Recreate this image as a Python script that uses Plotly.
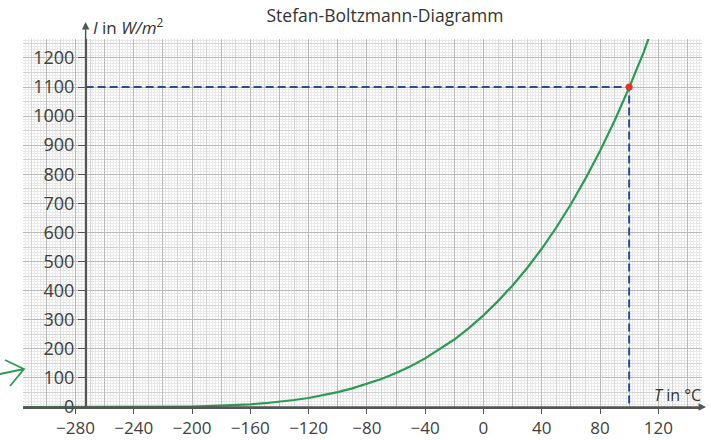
import plotly.graph_objects as go

# ---- data ----
T_C = [-316, -280, -273, -260, -250, -240, -230, -220, -210, -200, -190, -180, -170,
       -160, -150, -140, -130, -120, -110, -100, -90, -80, -70, -60, -50, -40,
       -30, -20, -10, 0, 10, 20, 30, 40, 50, 60, 70, 80, 90, 100, 110, 115]
I_W = [0, 0, 0, 0, 0, 0, 0.2, 0.5, 0.9, 1.6, 2.7, 4.2, 6.4,
       9.3, 13, 18, 24, 31, 40, 51, 64, 79, 96, 117, 140, 167,
       198, 232, 271, 315, 364, 418, 478, 544, 617, 697, 785, 880, 984, 1098, 1220, 1290]

mark_T = [100]
mark_I = [1100]
axis_T = -273

x_ticks = [-280, -240, -200, -160, -120, -80, -40, 0, 40, 80, 120]
y_ticks = [0, 100, 200, 300, 400, 500, 600, 700, 800, 900, 1000, 1100, 1200]

X_RANGE = [-316, 150]
Y_RANGE = [0, 1265]

GREEN = "#2b9a52"
NAVY = "#2e4a8c"
AXC = "#555555"
FONT = "Open Sans"

fig = go.Figure()

# helper traces for overlay grid axes
fig.add_trace(go.Scatter(x=[None], y=[None], xaxis="x2", yaxis="y2", showlegend=False, hoverinfo="skip"))
fig.add_trace(go.Scatter(x=[None], y=[None], xaxis="x3", yaxis="y3", showlegend=False, hoverinfo="skip"))

# dashed guide lines
fig.add_trace(go.Scatter(
    x=[axis_T, mark_T[0], mark_T[0]], y=[mark_I[0], mark_I[0], 0],
    mode="lines", line=dict(color=NAVY, width=2, dash="8px,4px"),
    showlegend=False, hoverinfo="skip"))

# curve
fig.add_trace(go.Scatter(
    x=T_C, y=I_W, mode="lines", line=dict(color=GREEN, width=2.2),
    showlegend=False))

# red point
fig.add_trace(go.Scatter(
    x=mark_T, y=mark_I, mode="markers",
    marker=dict(color="#e53222", size=7), showlegend=False))

common_grid_axis = dict(showticklabels=False, ticks="", zeroline=False, showline=False,
                        automargin=False)

fig.update_layout(
    width=711, height=440,
    margin=dict(l=23, r=9, t=39, b=33),
    paper_bgcolor="white", plot_bgcolor="white",
    font=dict(family=FONT, color="#404040"),
    title=dict(text="Stefan-Boltzmann-Diagramm", x=385/711, xanchor="center",
               y=1 - 16/440, yanchor="middle",
               font=dict(size=17.5, family=FONT, color="#333333")),
    xaxis=dict(range=X_RANGE, tickmode="array", tickvals=x_ticks,
               showgrid=False, zeroline=False, automargin=False,
               showline=True, linecolor=AXC, linewidth=1.5,
               ticks="outside", ticklen=5, tickcolor=AXC, tickwidth=1,
               ticklabelstandoff=0,
               tickfont=dict(size=17, color="#404040"),
               minor=dict(dtick=2, tick0=0, showgrid=True, gridcolor="#e9e9e9", gridwidth=1, ticks=""),
               anchor="y"),
    xaxis2=dict(range=X_RANGE, overlaying="x", dtick=10, tick0=0, showgrid=True,
                gridcolor="#d4d4d4", gridwidth=1, anchor="y2", **common_grid_axis),
    xaxis3=dict(range=X_RANGE, overlaying="x", dtick=20, tick0=0, showgrid=True,
                gridcolor="#b9b9b9", gridwidth=1, anchor="y3", **common_grid_axis),
    yaxis=dict(range=Y_RANGE, tickmode="array", tickvals=y_ticks,
               anchor="free", position=(axis_T - X_RANGE[0]) / (X_RANGE[1] - X_RANGE[0]),
               showgrid=False, zeroline=False, automargin=False,
               showline=True, linecolor=AXC, linewidth=1.5,
               ticks="outside", ticklen=7, tickcolor=AXC, tickwidth=1,
               tickfont=dict(size=18, color="#404040"),
               minor=dict(dtick=10, tick0=0, showgrid=True, gridcolor="#e9e9e9", gridwidth=1, ticks="")),
    yaxis2=dict(range=Y_RANGE, overlaying="y", dtick=50, tick0=0, showgrid=True,
                gridcolor="#d4d4d4", gridwidth=1, anchor="x2", **common_grid_axis),
    yaxis3=dict(range=Y_RANGE, overlaying="y", dtick=100, tick0=0, showgrid=True,
                gridcolor="#b9b9b9", gridwidth=1, anchor="x3", **common_grid_axis),
)

# axis arrows
fig.add_annotation(x=axis_T, xref="x", y=1.046, yref="paper", ax=0, ay=385,
                   showarrow=True, arrowhead=2, arrowsize=1, arrowwidth=1.5,
                   arrowcolor=AXC, text="")
fig.add_annotation(x=1.006, xref="paper", y=0, yref="y", ax=-683, ay=0,
                   showarrow=True, arrowhead=2, arrowsize=1, arrowwidth=1.5,
                   arrowcolor=AXC, text="")

# axis labels
fig.add_annotation(x=(91 - 23) / 679, xref="paper", y=(407 - 26) / 368, yref="paper",
                   xanchor="left", yanchor="middle", showarrow=False,
                   text="<i>I</i> in <i>W/m</i><sup>2</sup>",
                   font=dict(size=17, family=FONT, color="#333333"))
fig.add_annotation(x=(703 - 23) / 679, xref="paper", y=(407 - 395) / 368, yref="paper",
                   xanchor="right", yanchor="middle", showarrow=False,
                   text="<i>T</i> in °C",
                   font=dict(size=16, family=FONT, color="#333333"))

# hand-drawn green arrow at the left margin
def px(xp, yp):
    return (xp - 23) / 679, (407 - yp) / 368

pts_shaft = [px(0, 374), px(24, 369)]
pts_head = [px(5, 360), px(24, 369), px(10, 386)]
path = "M {} {} L {} {} ".format(*pts_shaft[0], *pts_shaft[1])
path += "M {} {} L {} {} L {} {}".format(*pts_head[0], *pts_head[1], *pts_head[2])
fig.add_shape(type="path", path=path, xref="paper", yref="paper",
              line=dict(color=GREEN, width=1.8))

fig.write_html("out.html", config={"displayModeBar": False},
               post_script="document.body.style.margin='0';document.body.style.overflow='hidden';")
